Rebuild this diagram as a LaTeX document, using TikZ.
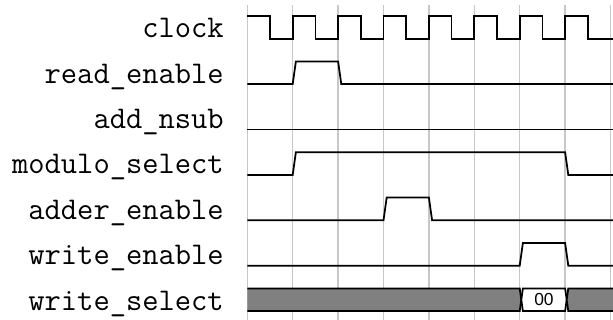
\documentclass[tikz,border=0pt]{standalone}
\usepackage{fontspec}
\newfontfamily\valfont{Liberation Sans}
\usepackage{tikz}

\tikzset{
  gridline/.style={draw=black!22, line width=0.9pt},
  wave/.style={line width=1.1pt},
  siglabel/.style={anchor=base east, inner sep=0pt, font=\fontsize{19.8}{24}\selectfont\ttfamily},
  busgray/.style={fill=black!50, draw=black, line width=1.1pt},
  buswhite/.style={fill=white, draw=black, line width=1.1pt},
}

\begin{document}
\begin{tikzpicture}
        \useasboundingbox (-5.447,-6.196) rectangle (8.055,0.852);
        % one grey line per clock cycle
        \foreach \i in {0,...,8}{
          \draw[gridline] (\i,0.742) -- (\i,-6.3);}
        % names of the signals
        \foreach \name [count=\r from 0] in {clock,read\_enable,add\_nsub,modulo\_select,adder\_enable,write\_enable,write\_select}{
          \node[siglabel] (lbl\r) at (-0.513,-\r+0.02) {\name};}
        % clock
        \draw[wave] (0,0.5) -- (0.5,0.5)
          \foreach \i in {1,...,7}{ -- (\i-0.5,0) -- (\i,0) -- (\i,0.5) -- (\i+0.5,0.5)}
          -- (7.5,0) -- (8.1,0);
        % single pulses: row/rise/fall
        \foreach \r/\up/\dn in {1/1/2,3/1/7,4/3/4,5/6/7}{
          \draw[wave] (0,-\r) -- (\up,-\r) -- (\up+0.07,-\r+0.5) -- (\dn,-\r+0.5)
            -- (\dn+0.07,-\r) -- (8.1,-\r);}
        \draw[wave] (0,-2) -- (8.1,-2);
        % write_select bus
        \draw[busgray] (0,-5.5) -- (6,-5.5) -- (6.035,-5.75) -- (6,-6) -- (0,-6);
        \draw[buswhite] (6.07,-5.5) -- (7,-5.5) -- (7.035,-5.75) -- (7,-6) -- (6.07,-6)
          -- (6.035,-5.75) -- cycle;
        \draw[busgray] (8.1,-5.5) -- (7.07,-5.5) -- (7.035,-5.75) -- (7.07,-6) -- (8.1,-6);
        \node[font=\valfont\fontsize{10.9}{13}\selectfont, inner sep=0pt] (val) at (6.535,-5.75) {00};
      \end{tikzpicture}
\end{document}
